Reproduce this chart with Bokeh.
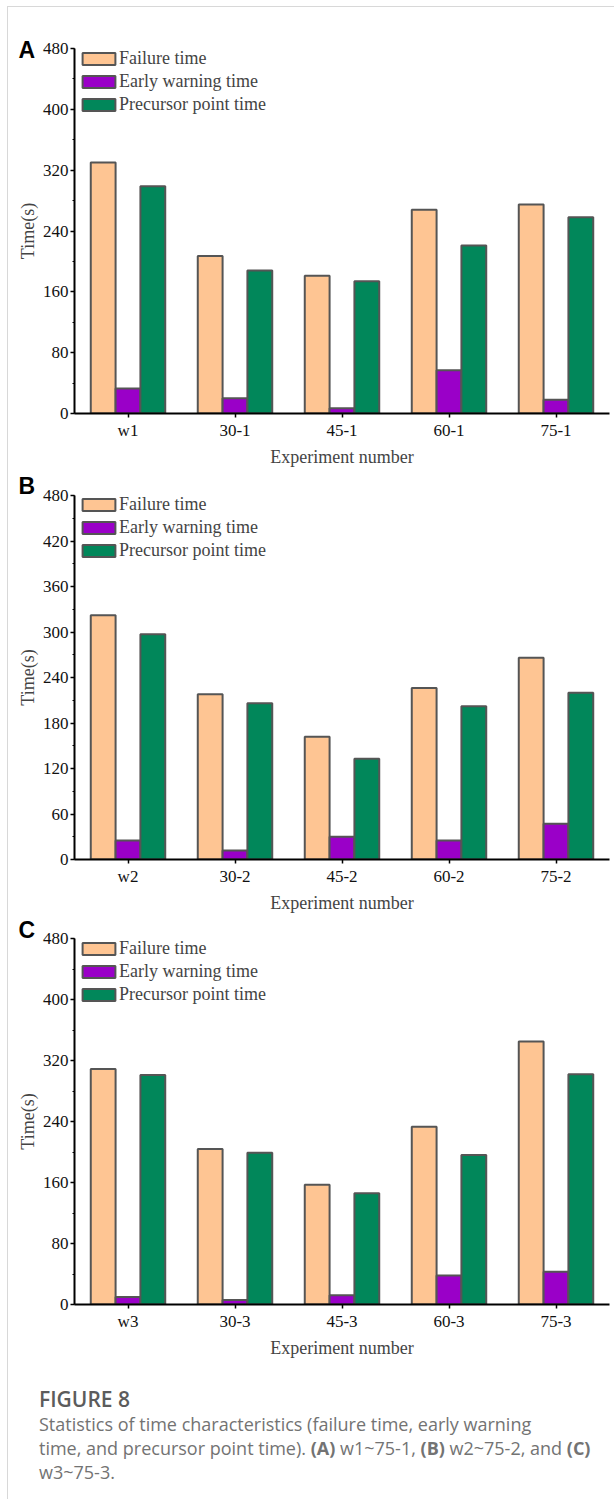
from bokeh.plotting import figure
from bokeh.models import (ColumnDataSource, Range1d, FactorRange, SingleIntervalTicker,
                          Legend, LegendItem, Title, Div)
from bokeh.layouts import column
from bokeh.transform import dodge
from bokeh.embed import file_html
from bokeh.resources import INLINE

# ---------------- data ----------------
series_names = ["Failure time", "Early warning time", "Precursor point time"]

cats_a = ["w1", "30-1", "45-1", "60-1", "75-1"]
failure_a = [330, 207, 181, 268, 275]
warning_a = [33, 20, 7, 57, 18]
precursor_a = [299, 188, 174, 221, 258]

cats_b = ["w2", "30-2", "45-2", "60-2", "75-2"]
failure_b = [322, 218, 162, 226, 266]
warning_b = [25, 12, 30, 25, 47]
precursor_b = [297, 206, 133, 202, 220]

cats_c = ["w3", "30-3", "45-3", "60-3", "75-3"]
failure_c = [309, 204, 157, 233, 345]
warning_c = [10, 6, 12, 38, 43]
precursor_c = [301, 199, 146, 196, 302]

y_max = 480
interval_a, interval_b, interval_c = 80, 60, 80

# ---------------- style ----------------
COLORS = ["#FEC593", "#9A00C8", "#01875A"]
EDGE = "#555555"
SERIF = "Liberation Serif"
BAR_W = 0.232


def make_panel(letter, cats, fail, warn, prec, interval, border_top, frame_h,
               border_bottom, legend_d, title_standoff):
    src = ColumnDataSource(dict(cat=cats, fail=fail, warn=warn, prec=prec))
    height = border_top + frame_h + border_bottom
    p = figure(x_range=FactorRange(*cats), y_range=Range1d(0, y_max),
               width=606, height=height, min_border_left=66, min_border_right=5,
               min_border_top=border_top, min_border_bottom=border_bottom,
               toolbar_location=None, output_backend="svg")
    p.outline_line_color = None
    p.xgrid.visible = False
    p.ygrid.visible = False

    rs = []
    for off, key, col in zip([-BAR_W, 0, BAR_W], ["fail", "warn", "prec"], COLORS):
        r = p.vbar(x=dodge("cat", off, range=p.x_range), top=key, width=BAR_W,
                   source=src, fill_color=col, line_color=EDGE, line_width=2)
        rs.append(r)

    R, SP = 21, 2
    LH = 3 * R + 2 * SP
    vy = frame_h - legend_d + R / 2 - LH
    legend = Legend(items=[LegendItem(label=n, renderers=[r]) for n, r in zip(series_names, rs)],
                    location=(4, vy), glyph_width=41, glyph_height=15, label_standoff=0,
                    label_text_font=SERIF, label_text_font_size="18px", label_height=R,
                    spacing=SP, padding=0, margin=0, border_line_color=None,
                    background_fill_alpha=0)
    p.add_layout(legend)

    ya = p.yaxis[0]
    ya.ticker = SingleIntervalTicker(interval=interval, num_minor_ticks=2)
    ya.axis_line_width = 2
    ya.major_tick_line_width = 1.5
    ya.major_tick_out = 4
    ya.major_tick_in = 0
    ya.minor_tick_out = 2
    ya.minor_tick_in = 0
    ya.major_label_standoff = 2
    ya.major_label_text_font = SERIF
    ya.major_label_text_font_size = "17px"
    ya.major_label_text_color = "#111111"
    ya.axis_label = "Time(s)"
    ya.axis_label_text_font = SERIF
    ya.axis_label_text_font_size = "18px"
    ya.axis_label_text_font_style = "normal"
    ya.axis_label_standoff = 2

    xa = p.xaxis[0]
    xa.axis_line_width = 2
    xa.major_tick_line_width = 1.5
    xa.major_tick_out = 4
    xa.major_tick_in = 0
    xa.major_label_standoff = 3
    xa.major_label_text_font = SERIF
    xa.major_label_text_font_size = "17px"
    xa.major_label_text_color = "#111111"
    xa.axis_label = "Experiment number"
    xa.axis_label_text_font = SERIF
    xa.axis_label_text_font_size = "18px"
    xa.axis_label_text_font_style = "normal"
    xa.axis_label_standoff = 4

    p.add_layout(Title(text=letter, align="left", offset=-56, standoff=title_standoff,
                       text_font="Liberation Sans", text_font_style="bold",
                       text_font_size="23px", text_color="#000000"), "above")
    return p


pA = make_panel("A", cats_a, failure_a, warning_a, precursor_a, interval_a,
                41, 365, 60, 10, -28)
pB = make_panel("B", cats_b, failure_b, warning_b, precursor_b, interval_b,
                21, 365, 58, 10.5, -6)
pC = make_panel("C", cats_c, failure_c, warning_c, precursor_c, interval_c,
                21, 366, 60, 10.5, -8)

caption = Div(text=(
    '<div style="font-family:\'Open Sans\',sans-serif;color:#737373;font-size:18px;'
    'line-height:24px;white-space:nowrap;">'
    '<div style="font-weight:600;font-size:21px;color:#5c5c5c;line-height:26px;'
    'padding-top:2px;">FIGURE 8</div>'
    'Statistics of time characteristics (failure time, early warning<br>'
    'time, and precursor point time). <b>(A)</b> w1~75-1, <b>(B)</b> w2~75-2, and <b>(C)</b><br>'
    'w3~75-3.</div>'), width=575, height=115, margin=(20, 0, 0, 31))

root = column(pA, pB, pC, caption, margin=(6, 0, 0, 7),
              styles={"border-top": "1px solid #d8d8d8", "border-left": "1px solid #d8d8d8"})

open("out.html", "w").write(file_html(root, INLINE))
